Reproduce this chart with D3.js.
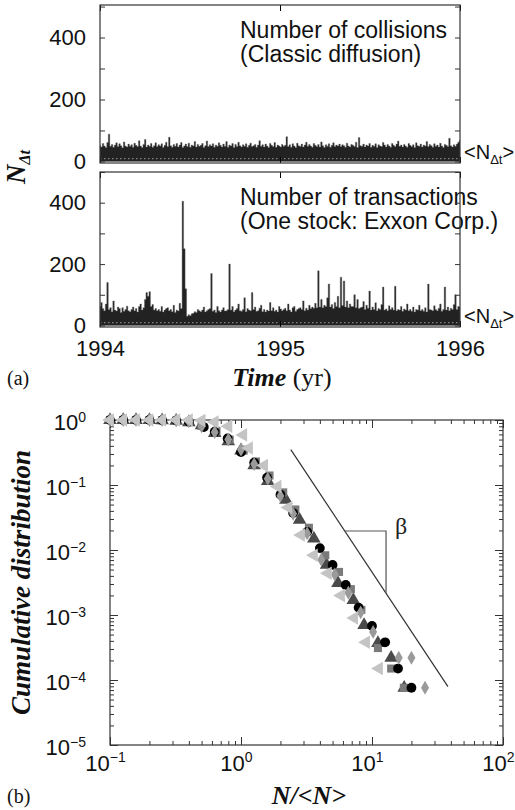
<!DOCTYPE html>
<html>
<head>
<meta charset="utf-8">
<script src="https://cdn.jsdelivr.net/npm/d3@7"></script>
<style>
  body { margin: 0; background: #fff; }
  svg { display: block; }
</style>
</head>
<body>
<script>
// ---- data ----
var years = [1994, 1995, 1996];
var countTicks = [0, 100, 200, 300, 400, 500];
var countLabels = [0, 200, 400];
var meanCount = 30;
var gapLevel = 9; // the thin light row seen near the bottom of both traces

// (a) top: number of collisions, upper envelope of the dense trace (uniform over 1994-1996)
var collisions = [
  52,47,58,50,45,61,88,49,55,46,53,60,48,57,51,44,63,50,47,56,
  49,54,46,59,52,48,67,50,45,55,71,47,53,49,58,46,51,60,48,54,
  50,57,45,52,62,48,78,51,46,55,49,58,47,53,61,45,50,56,48,59,
  46,53,50,64,47,55,49,52,58,45,51,66,48,54,50,57,46,53,49,60,
  52,47,56,49,64,46,53,50,58,45,55,48,62,51,47,54,49,57,46,52,
  59,48,51,55,46,53,67,49,54,47,56,50,45,58,52,48,61,46,53,50,
  47,55,49,52,80,48,54,46,57,50,45,59,51,48,56,47,53,62,49,55,
  50,46,58,52,48,55,47,63,51,45,54,49,57,46,52,60,48,53,50,56,
  48,54,51,46,59,50,47,55,52,48,62,45,77,51,49,56,47,53,50,58,
  46,52,49,57,45,54,50,48,61,53,47,55,50,46,58,52,48,56,66,49,
  53,47,55,50,46,58,52,48,54,45,60,51,49,56,47,53,50,64,48,55,
  51,46,57,49,53,47,59,50,45,55,52,48,75,51,47,54,49,56,62,68
];

// (a) bottom: number of transactions, Exxon Corp. (same sampling)
var transactions = [
  62,75,55,48,70,140,52,58,45,80,50,47,60,55,42,58,46,52,63,48,
  45,52,60,48,55,44,62,70,50,58,85,107,95,110,62,68,50,55,48,52,
  46,62,44,50,55,58,48,52,45,66,42,50,47,72,55,405,250,120,30,35,
  32,38,40,45,42,52,48,45,50,60,44,48,52,55,169,46,50,42,62,48,
  44,50,58,47,48,52,200,50,62,45,50,55,70,48,46,52,90,45,55,50,
  48,107,52,60,46,48,56,66,45,52,44,50,47,75,48,58,46,50,44,62,
  54,48,52,56,48,70,50,44,58,62,46,52,55,58,52,80,48,56,50,66,
  55,60,56,72,58,178,60,85,58,66,62,90,135,60,68,55,75,62,95,58,
  157,65,145,60,80,58,70,62,62,100,58,85,55,58,60,78,52,66,56,112,
  50,60,52,74,48,55,52,68,125,50,54,48,64,52,58,50,128,48,52,50,
  62,46,54,50,70,48,52,46,60,44,52,50,66,48,52,46,58,44,135,52,
  50,48,64,52,48,56,70,46,52,125,50,60,48,56,52,68,100,52,62,60
];

// (b) cumulative distributions, [N/<N>, P]
var circlePts = [[0.1,1],[0.126,1],[0.158,1],[0.2,1],[0.25,0.99],[0.32,0.98],[0.4,0.94],[0.52,0.78],[0.63,0.66],[0.79,0.52],[1.0,0.32],[1.26,0.22],[1.58,0.13],[2.0,0.071],[2.5,0.037],[3.2,0.019],[4.0,0.0107],[5.0,0.0059],[6.3,0.0029],[7.9,0.0013],[10,0.00068],[12.6,0.00038],[15.8,0.00015],[20,0.000076]];
var trianglePts = [[0.1,1],[0.126,1],[0.158,1],[0.2,1],[0.25,0.99],[0.32,0.97],[0.4,0.92],[0.5,0.83],[0.63,0.63],[0.8,0.47],[1.0,0.34],[1.26,0.2],[1.6,0.115],[2.2,0.059],[2.8,0.029],[3.6,0.015],[4.5,0.0059],[5.5,0.0031],[7.2,0.0017],[8.7,0.0007],[11.1,0.00037],[14,0.00022],[17.6,0.000076]];
var squarePts = [[0.1,1],[0.126,1],[0.158,1],[0.2,1],[0.25,0.99],[0.32,0.98],[0.4,0.93],[0.5,0.81],[0.65,0.68],[0.82,0.5],[1.05,0.35],[1.3,0.23],[1.65,0.14],[2.1,0.077],[2.6,0.042],[3.3,0.022],[4.4,0.0083],[5.6,0.0046],[6.9,0.0025],[8.3,0.0012],[11.1,0.00031],[14,0.00015],[17.5,0.000076]];
var diamondPts = [[0.1,1],[0.126,1],[0.158,1],[0.2,1],[0.25,1],[0.32,0.98],[0.4,0.95],[0.5,0.8],[0.63,0.65],[0.8,0.5],[1.0,0.35],[1.26,0.21],[1.6,0.125],[2.0,0.068],[2.5,0.036],[3.2,0.018],[4.1,0.0071],[5.2,0.0042],[6.6,0.0022],[8.2,0.0011],[10.2,0.00055],[16,0.00022],[20,0.00022],[25.4,0.000076]];
var leftTrianglePts = [[0.1,1],[0.126,1],[0.158,1],[0.2,1],[0.25,1],[0.32,1],[0.4,1],[0.5,0.98],[0.63,0.93],[0.8,0.8],[1.04,0.59],[1.15,0.37],[1.5,0.2],[1.9,0.095],[2.3,0.045],[2.87,0.017],[3.6,0.0083],[4.6,0.0044],[5.8,0.002],[7.3,0.0009],[9.0,0.00038],[11.3,0.00015]];

// power law guide and the slope triangle
var slopeLine = [[2.4, 0.35], [38, 0.000079]];
var betaTriangle = [[6.2, 0.0196], [12.8, 0.0196], [12.8, 0.0022]];

// ---- layout ----
var width = 515, height = 810;
var sans = "Arial, 'Liberation Sans', Helvetica, sans-serif";
var serif = "'Times New Roman', 'Liberation Serif', Times, serif";
var panelA = { left: 100, right: 460 };
var a1 = { top: 5, bottom: 163, max: 505 };
var a2 = { top: 172, bottom: 327, max: 500 };
var panelB = { left: 110, right: 503, top: 420, bottom: 745 };

var svg = d3.select("body").append("svg")
    .attr("width", width)
    .attr("height", height);

var xTime = d3.scaleLinear().domain([1994, 1996]).range([panelA.left, panelA.right]);

function drawTimePanel(p, values, id, title1, title2, showYears) {
    var y = d3.scaleLinear().domain([-5, p.max]).range([p.bottom, p.top]);

    svg.append("clipPath").attr("id", id)
        .append("rect")
        .attr("x", panelA.left).attr("y", p.top)
        .attr("width", panelA.right - panelA.left).attr("height", p.bottom - p.top);

    // dense trace drawn as its filled envelope, one narrow step per sample
    var area = d3.area()
        .curve(d3.curveStep)
        .x((d, i, arr) => xTime(1994 + 2 * i / (arr.length - 1)))
        .y0(y(0))
        .y1(d => y(d));

    var clip = svg.append("g").attr("clip-path", "url(#" + id + ")");
    clip.append("path")
        .datum(values)
        .attr("fill", "#222")
        .attr("stroke", "#666")
        .attr("stroke-width", 0.4)
        .attr("d", area);

    clip.append("line")
        .attr("x1", panelA.left).attr("x2", panelA.right)
        .attr("y1", y(gapLevel)).attr("y2", y(gapLevel))
        .attr("stroke", "#fff").attr("stroke-width", 1)
        .attr("stroke-dasharray", "1.5,2.5").attr("opacity", 0.55);

    // titles inside the panel
    var t = svg.append("g").attr("font-family", sans).attr("font-size", 23).attr("fill", "#111");
    t.append("text").attr("x", 240).attr("y", p.top + 33).text(title1);
    t.append("text").attr("x", 240).attr("y", p.top + 57).text(title2);

    // left axis with labels
    var left = svg.append("g")
        .attr("transform", "translate(" + panelA.left + ",0)")
        .call(d3.axisLeft(y).tickValues(countTicks).tickSize(-5).tickPadding(14)
            .tickFormat(d => countLabels.indexOf(d) >= 0 ? d : ""));
    left.select(".domain").remove();
    left.selectAll("text").attr("font-family", sans).attr("font-size", 22).attr("fill", "#111");
    left.selectAll("line").attr("stroke", "#333");

    var right = svg.append("g")
        .attr("transform", "translate(" + panelA.right + ",0)")
        .call(d3.axisRight(y).tickValues(countTicks).tickSize(-5).tickFormat(""));
    right.select(".domain").remove();
    right.selectAll("line").attr("stroke", "#333");

    var top = svg.append("g")
        .attr("transform", "translate(0," + p.top + ")")
        .call(d3.axisTop(xTime).tickValues(years).tickSize(-6).tickFormat(""));
    top.select(".domain").remove();

    var bottom = svg.append("g")
        .attr("transform", "translate(0," + p.bottom + ")")
        .call(d3.axisBottom(xTime).tickValues(years).tickSize(-6).tickPadding(13)
            .tickFormat(d => showYears ? d : ""));
    bottom.select(".domain").remove();
    bottom.selectAll("text").attr("font-family", sans).attr("font-size", 22).attr("fill", "#111");

    // frame
    svg.append("rect")
        .attr("x", panelA.left).attr("y", p.top)
        .attr("width", panelA.right - panelA.left).attr("height", p.bottom - p.top)
        .attr("fill", "none").attr("stroke", "#333").attr("stroke-width", 1.2);

    // mean marker on the right
    var m = svg.append("text")
        .attr("x", panelA.right + 4).attr("y", y(meanCount) + 7)
        .attr("font-family", sans).attr("font-size", 20).attr("fill", "#111");
    m.append("tspan").text("<N");
    m.append("tspan").attr("font-size", 13).attr("dy", 5).text("\u0394t");
    m.append("tspan").attr("dy", -5).text(">");
}

drawTimePanel(a1, collisions, "clipA1", "Number of collisions", "(Classic diffusion)", false);
drawTimePanel(a2, transactions, "clipA2", "Number of transactions", "(One stock: Exxon Corp.)", true);

// panel (a) labels
var yl = svg.append("text")
    .attr("transform", "translate(25,167) rotate(-90)")
    .attr("text-anchor", "middle")
    .attr("font-family", serif).attr("font-weight", "bold").attr("font-style", "italic")
    .attr("font-size", 27).attr("fill", "#111");
yl.append("tspan").text("N");
yl.append("tspan").attr("font-size", 16).attr("dy", 5).text("\u0394t");

var tl = svg.append("text")
    .attr("x", 282).attr("y", 386)
    .attr("text-anchor", "middle")
    .attr("font-family", serif).attr("font-size", 26).attr("fill", "#111");
tl.append("tspan").attr("font-weight", "bold").attr("font-style", "italic").text("Time");
tl.append("tspan").text(" (yr)");

svg.append("text").attr("x", 7).attr("y", 385)
    .attr("font-family", serif).attr("font-size", 20).attr("fill", "#111").text("(a)");

// ---- panel (b) ----
var xLog = d3.scaleLog().domain([0.1, 100]).range([panelB.left, panelB.right]);
var yLog = d3.scaleLog().domain([1e-5, 1]).range([panelB.bottom, panelB.top]);

function isDecade(v) { return Math.abs(Math.log10(v) - Math.round(Math.log10(v))) < 1e-6; }
function expText(v) { var e = Math.round(Math.log10(v)); return e < 0 ? "\u2212" + (-e) : "" + e; }

var xMajor = xLog.ticks().filter(isDecade), xMinor = xLog.ticks().filter(v => !isDecade(v));
var yMajor = yLog.ticks().filter(isDecade), yMinor = yLog.ticks().filter(v => !isDecade(v));

function tickGroup(axis, tx, ty) {
    var g = svg.append("g").attr("transform", "translate(" + tx + "," + ty + ")").call(axis);
    g.select(".domain").remove();
    g.selectAll("line").attr("stroke", "#333");
    return g;
}

function powerLabel(sel) {
    sel.each(function(d) {
        var t = d3.select(this).text("10")
            .attr("font-family", sans).attr("font-size", 22).attr("fill", "#111");
        t.append("tspan").attr("dy", "-0.6em").attr("font-size", 14).text(expText(d));
    });
}

// minor ticks on all sides
tickGroup(d3.axisBottom(xLog).tickValues(xMinor).tickSize(-4).tickFormat(""), 0, panelB.bottom);
tickGroup(d3.axisTop(xLog).tickValues(xMinor).tickSize(-4).tickFormat(""), 0, panelB.top);
tickGroup(d3.axisLeft(yLog).tickValues(yMinor).tickSize(-4).tickFormat(""), panelB.left, 0);
tickGroup(d3.axisRight(yLog).tickValues(yMinor).tickSize(-4).tickFormat(""), panelB.right, 0);

// major ticks
var bx = tickGroup(d3.axisBottom(xLog).tickValues(xMajor).tickSize(-8).tickPadding(10), 0, panelB.bottom);
bx.selectAll("text").call(powerLabel).attr("x", -5);
tickGroup(d3.axisTop(xLog).tickValues(xMajor).tickSize(-8).tickFormat(""), 0, panelB.top);
var by = tickGroup(d3.axisLeft(yLog).tickValues(yMajor).tickSize(-8).tickPadding(24), panelB.left, 0);
by.selectAll("text").call(powerLabel).attr("dy", "0.45em");
tickGroup(d3.axisRight(yLog).tickValues(yMajor).tickSize(-8).tickFormat(""), panelB.right, 0);

svg.append("rect")
    .attr("x", panelB.left).attr("y", panelB.top)
    .attr("width", panelB.right - panelB.left).attr("height", panelB.bottom - panelB.top)
    .attr("fill", "none").attr("stroke", "#333").attr("stroke-width", 1.2);

// guide line and slope triangle
var logLine = d3.line().x(d => xLog(d[0])).y(d => yLog(d[1]));
svg.append("path").datum(slopeLine).attr("d", logLine)
    .attr("fill", "none").attr("stroke", "#333").attr("stroke-width", 1.2);
svg.append("path").datum(betaTriangle).attr("d", logLine)
    .attr("fill", "none").attr("stroke", "#555").attr("stroke-width", 1.2);
svg.append("text").attr("x", 395).attr("y", 534)
    .attr("font-family", serif).attr("font-size", 24).attr("fill", "#222").text("\u03b2");

// data markers
var series = [
    { pts: trianglePts, type: d3.symbolTriangle, size: 80, color: "#4a4a4a", rot: 0 },
    { pts: squarePts, type: d3.symbolSquare, size: 65, color: "#7a7a7a", rot: 0 },
    { pts: circlePts, type: d3.symbolCircle, size: 75, color: "#000", rot: 0 },
    { pts: diamondPts, type: d3.symbolDiamond, size: 55, color: "#9a9a9a", rot: 0 },
    { pts: leftTrianglePts, type: d3.symbolTriangle, size: 80, color: "#c4c4c4", rot: -90 }
];

series.forEach(function(s) {
    svg.append("g").selectAll("path")
        .data(s.pts)
        .enter()
        .append("path")
        .attr("transform", d => "translate(" + xLog(d[0]) + "," + yLog(d[1]) + ") rotate(" + s.rot + ")")
        .attr("d", d3.symbol().type(s.type).size(s.size))
        .attr("fill", s.color);
});

// panel (b) labels
svg.append("text")
    .attr("transform", "translate(30," + (panelB.top + panelB.bottom) / 2 + ") rotate(-90)")
    .attr("text-anchor", "middle")
    .attr("font-family", serif).attr("font-weight", "bold").attr("font-style", "italic")
    .attr("font-size", 27).attr("fill", "#111")
    .text("Cumulative distribution");

svg.append("text").attr("x", 309).attr("y", 804)
    .attr("text-anchor", "middle")
    .attr("font-family", serif).attr("font-weight", "bold").attr("font-style", "italic")
    .attr("font-size", 26).attr("fill", "#111")
    .text("N/<N>");

svg.append("text").attr("x", 7).attr("y", 803)
    .attr("font-family", serif).attr("font-size", 20).attr("fill", "#111").text("(b)");
</script>
</body>
</html>
